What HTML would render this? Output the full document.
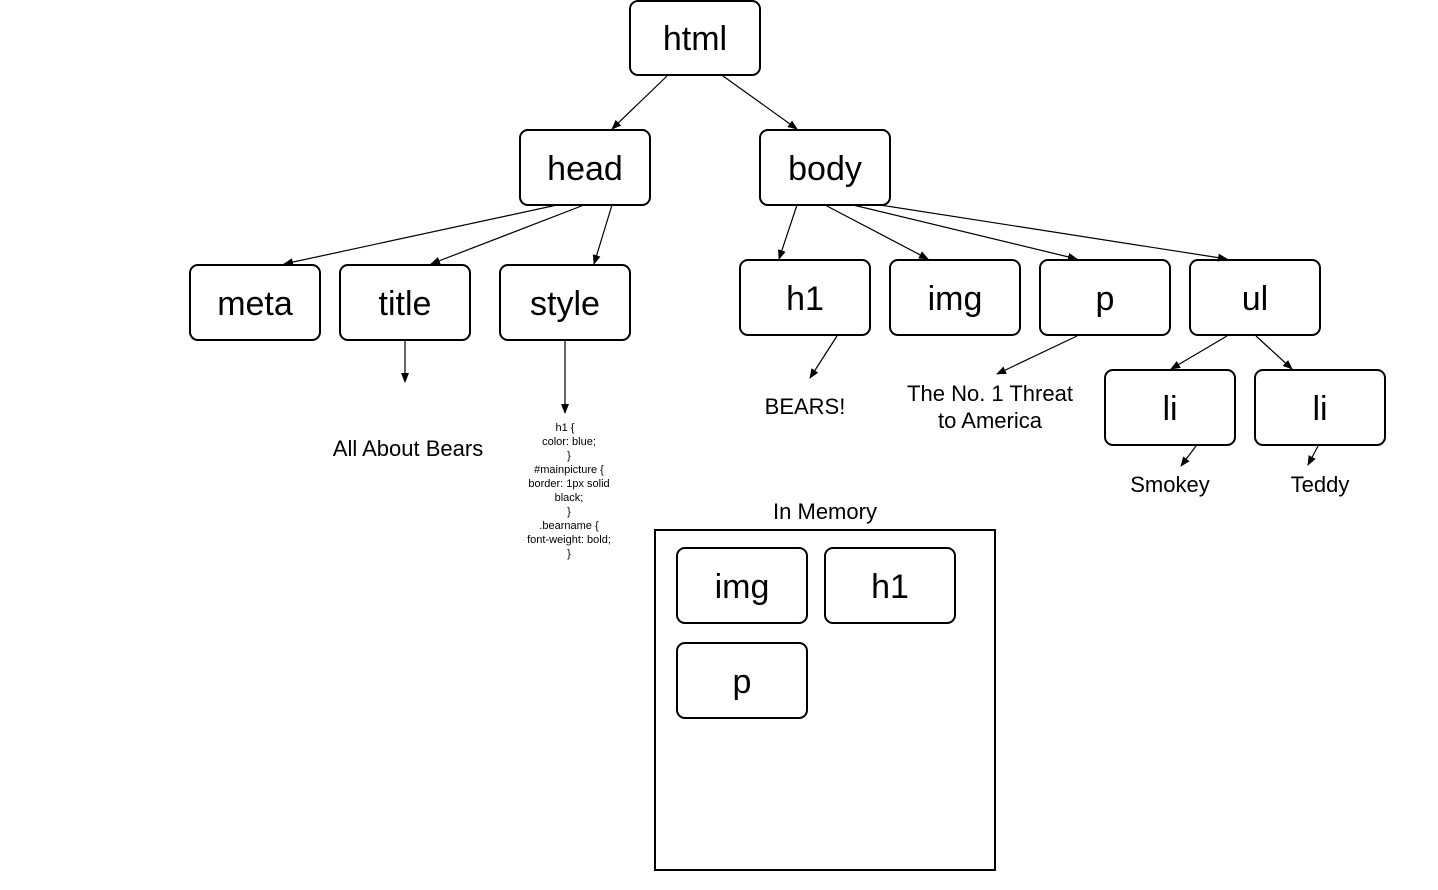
<!DOCTYPE html>
<html><head><style>body{margin:0;background:#fff}svg{display:block}text{font-family:"Liberation Sans",Arial,sans-serif;fill:#000}</style></head>
<body>
<svg width="1438" height="890" viewBox="0 0 1438 890" xmlns="http://www.w3.org/2000/svg">
<defs><marker id="a" markerWidth="10" markerHeight="10" refX="9" refY="5" orient="auto" markerUnits="userSpaceOnUse"><path d="M0,1 L10,5 L0,9 z" fill="#000"/></marker></defs>
<g fill="#fff" stroke="#000" stroke-width="2">
<rect x="630" y="1" width="130" height="74" rx="8"/>
<rect x="520" y="130" width="130" height="75" rx="8"/>
<rect x="760" y="130" width="130" height="75" rx="8"/>
<rect x="190" y="265" width="130" height="75" rx="8"/>
<rect x="340" y="265" width="130" height="75" rx="8"/>
<rect x="500" y="265" width="130" height="75" rx="8"/>
<rect x="740" y="260" width="130" height="75" rx="8"/>
<rect x="890" y="260" width="130" height="75" rx="8"/>
<rect x="1040" y="260" width="130" height="75" rx="8"/>
<rect x="1190" y="260" width="130" height="75" rx="8"/>
<rect x="1105" y="370" width="130" height="75" rx="8"/>
<rect x="1255" y="370" width="130" height="75" rx="8"/>
<rect x="655" y="530" width="340" height="340"/>
<rect x="677" y="548" width="130" height="75" rx="8"/>
<rect x="825" y="548" width="130" height="75" rx="8"/>
<rect x="677" y="643" width="130" height="75" rx="8"/>
</g>
<g stroke="#000" stroke-width="1.2" marker-end="url(#a)">
<line x1="667" y1="76" x2="612" y2="129"/>
<line x1="723" y1="76" x2="797" y2="129"/>
<line x1="557" y1="205" x2="284" y2="264"/>
<line x1="584" y1="205" x2="431" y2="264"/>
<line x1="612" y1="205" x2="594" y2="264"/>
<line x1="405" y1="341" x2="405" y2="382"/>
<line x1="565" y1="341" x2="565" y2="413"/>
<line x1="797" y1="205" x2="779" y2="259"/>
<line x1="825" y1="205" x2="928" y2="259"/>
<line x1="853" y1="205" x2="1077" y2="259"/>
<line x1="880" y1="205" x2="1227" y2="259"/>
<line x1="837" y1="336" x2="810" y2="378"/>
<line x1="1077" y1="336" x2="997" y2="374"/>
<line x1="1227" y1="336" x2="1171" y2="369"/>
<line x1="1256" y1="336" x2="1292" y2="369"/>
<line x1="1196" y1="446" x2="1181" y2="466"/>
<line x1="1318" y1="446" x2="1308" y2="465"/>
</g>
<g font-size="34" text-anchor="middle">
<text x="695" y="50">html</text>
<text x="585" y="180">head</text>
<text x="825" y="180">body</text>
<text x="255" y="315">meta</text>
<text x="405" y="315">title</text>
<text x="565" y="315">style</text>
<text x="805" y="310">h1</text>
<text x="955" y="310">img</text>
<text x="1105" y="310">p</text>
<text x="1255" y="310">ul</text>
<text x="1170" y="420">li</text>
<text x="1320" y="420">li</text>
<text x="742" y="598">img</text>
<text x="890" y="598">h1</text>
<text x="742" y="693">p</text>
</g>
<g font-size="22" text-anchor="middle">
<text x="408" y="456">All About Bears</text>
<text x="805" y="414">BEARS!</text>
<text x="990" y="401">The No. 1 Threat</text>
<text x="990" y="428">to America</text>
<text x="1170" y="492">Smokey</text>
<text x="1320" y="492">Teddy</text>
<text x="825" y="519">In Memory</text>
</g>
<g font-size="11" text-anchor="middle">
<text x="565" y="431">h1 {</text>
<text x="569" y="445">color: blue;</text>
<text x="569" y="459">}</text>
<text x="569" y="473">#mainpicture {</text>
<text x="569" y="487">border: 1px solid</text>
<text x="569" y="501">black;</text>
<text x="569" y="515">}</text>
<text x="569" y="529">.bearname {</text>
<text x="569" y="543">font-weight: bold;</text>
<text x="569" y="557">}</text>
</g>
</svg>
</body></html>
